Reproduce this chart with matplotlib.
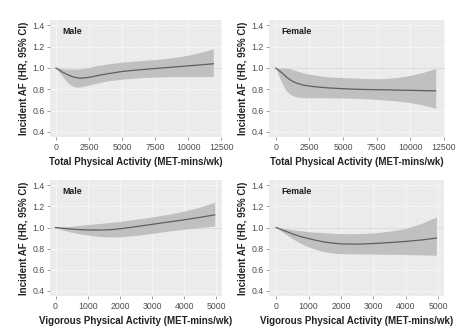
import numpy as np
import matplotlib.pyplot as plt
from matplotlib.ticker import MultipleLocator

plt.rcParams['font.family'] = ['Liberation Sans', 'DejaVu Sans']

# total physical activity (MET-mins/wk)
tot_x = [0, 250, 500, 750, 1000, 1250, 1500, 1750, 2000, 2500, 3000, 3500, 4000,
         5000, 6000, 7000, 8000, 9000, 10000, 11000, 11900]
male_tot = [1.0, 0.98, 0.96, 0.945, 0.93, 0.918, 0.91, 0.905, 0.905, 0.912, 0.925, 0.937,
            0.948, 0.967, 0.98, 0.99, 1.0, 1.01, 1.02, 1.03, 1.04]
male_tot_hi = [1.0, 1.0, 0.995, 0.99, 0.99, 0.99, 0.99, 0.99, 0.995, 1.005, 1.02, 1.03,
               1.04, 1.055, 1.065, 1.075, 1.085, 1.1, 1.12, 1.15, 1.18]
male_tot_lo = [1.0, 0.96, 0.92, 0.88, 0.85, 0.83, 0.82, 0.82, 0.825, 0.84, 0.855, 0.87,
               0.88, 0.895, 0.905, 0.912, 0.917, 0.92, 0.92, 0.92, 0.92]
fem_tot = [1.0, 0.975, 0.95, 0.92, 0.895, 0.875, 0.86, 0.85, 0.84, 0.83, 0.822, 0.817,
           0.812, 0.805, 0.8, 0.797, 0.795, 0.792, 0.79, 0.787, 0.785]
fem_tot_hi = [1.0, 1.0, 1.0, 1.0, 0.995, 0.985, 0.975, 0.965, 0.955, 0.942, 0.932, 0.922,
              0.916, 0.91, 0.905, 0.9, 0.9, 0.91, 0.93, 0.96, 0.995]
fem_tot_lo = [1.0, 0.92, 0.85, 0.79, 0.76, 0.74, 0.73, 0.725, 0.72, 0.72, 0.72, 0.72,
              0.72, 0.718, 0.714, 0.708, 0.7, 0.69, 0.675, 0.65, 0.62]

# vigorous physical activity (MET-mins/wk)
vig_x = [0, 250, 500, 750, 1000, 1250, 1500, 1750, 2000, 2500, 3000, 3500, 4000, 4500, 4950]
male_vig = [1.0, 0.992, 0.985, 0.98, 0.977, 0.976, 0.977, 0.98, 0.988, 1.008, 1.03,
            1.052, 1.073, 1.097, 1.12]
male_vig_hi = [1.0, 1.005, 1.012, 1.02, 1.027, 1.035, 1.042, 1.05, 1.058, 1.078, 1.1,
               1.125, 1.155, 1.195, 1.24]
male_vig_lo = [1.0, 0.975, 0.955, 0.94, 0.928, 0.918, 0.912, 0.91, 0.912, 0.925, 0.945,
               0.965, 0.985, 1.0, 1.015]
fem_vig = [1.0, 0.97, 0.94, 0.915, 0.895, 0.877, 0.862, 0.852, 0.845, 0.842, 0.848,
           0.857, 0.868, 0.882, 0.9]
fem_vig_hi = [1.0, 0.99, 0.98, 0.97, 0.96, 0.955, 0.95, 0.945, 0.942, 0.942, 0.948,
              0.965, 0.99, 1.04, 1.1]
fem_vig_lo = [1.0, 0.945, 0.895, 0.85, 0.815, 0.79, 0.77, 0.758, 0.752, 0.75, 0.748,
              0.746, 0.744, 0.74, 0.737]

ylab = "Incident AF (HR, 95% CI)"
xlab_tot = "Total Physical Activity (MET-mins/wk)"
xlab_vig = "Vigorous Physical Activity (MET-mins/wk)"

fig = plt.figure(figsize=(4.72, 3.36), dpi=100)

panels = [
    ([0.106, 0.592, 0.364, 0.348], tot_x, male_tot, male_tot_lo, male_tot_hi, "Male", xlab_tot, (-450, 12550), 2500),
    ([0.570, 0.592, 0.373, 0.348], tot_x, fem_tot, fem_tot_lo, fem_tot_hi, "Female", xlab_tot, (-500, 12600), 2500),
    ([0.106, 0.119, 0.364, 0.345], vig_x, male_vig, male_vig_lo, male_vig_hi, "Male", xlab_vig, (-170, 5170), 1000),
    ([0.570, 0.119, 0.371, 0.345], vig_x, fem_vig, fem_vig_lo, fem_vig_hi, "Female", xlab_vig, (-220, 5190), 1000),
]

for rect, x, y, lo, hi, sex, xlab, xl, step in panels:
    ax = fig.add_axes(rect)
    ax.set_facecolor('#ebebeb')
    for s in ax.spines.values():
        s.set_visible(False)
    ax.set_xlim(*xl)
    ax.set_ylim(0.35, 1.45)
    ax.xaxis.set_major_locator(MultipleLocator(step))
    ax.xaxis.set_minor_locator(MultipleLocator(step / 2))
    ax.yaxis.set_major_locator(MultipleLocator(0.2))
    ax.yaxis.set_minor_locator(MultipleLocator(0.1))
    ax.grid(True, which='major', color='#f6f6f6', lw=0.6)
    ax.grid(True, which='minor', color='#f1f1f1', lw=0.3)
    ax.set_axisbelow(True)
    ax.tick_params(which='minor', length=0)
    ax.tick_params(which='major', length=2, width=0.5, color='#777777',
                   labelsize=6.3, labelcolor='#4d4d4d', pad=2)
    ax.axhline(1.0, color='#d8d8d8', lw=0.6, zorder=1)
    ax.fill_between(x, lo, hi, color='#c0c0c0', lw=0, zorder=2)
    ax.plot(x, y, color='#5f5f5f', lw=0.9, zorder=3)
    ax.text(0.07, 0.905, sex, transform=ax.transAxes, fontsize=6.3, fontweight='bold',
            color='#1a1a1a', va='center')
    ax.set_xlabel(xlab, fontsize=7, fontweight='bold', color='#222222', labelpad=4)
    ax.set_ylabel(ylab, fontsize=7, fontweight='bold', color='#222222', labelpad=2)

plt.savefig('out.png', dpi=100)
